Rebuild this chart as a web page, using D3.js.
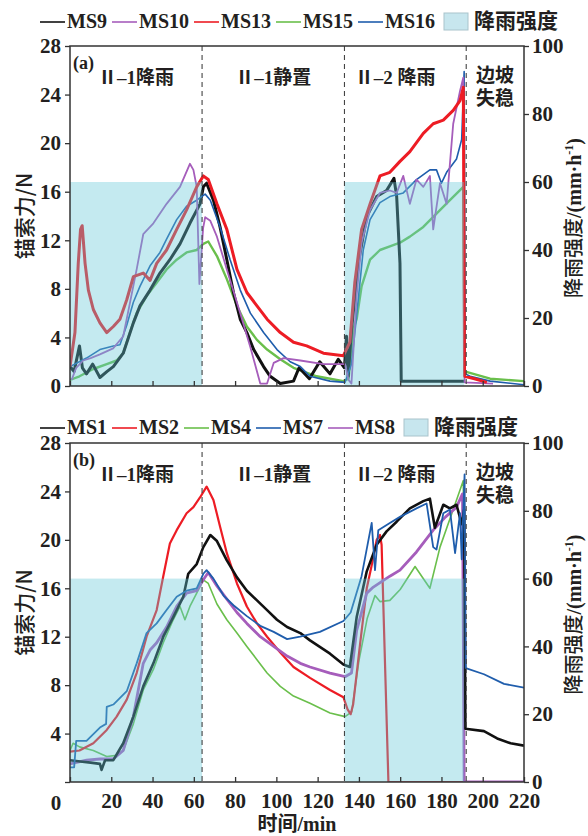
<!DOCTYPE html>
<html>
<head>
<meta charset="utf-8">
<script src="https://cdn.jsdelivr.net/npm/d3@7"></script>
<style>
body { margin: 0; background: #fff; }
svg text { font-family: "Liberation Serif", "Noto Sans CJK SC", serif; font-weight: bold; fill: #231f20; }
</style>
</head>
<body>
<div id="app"></div>
<script>
// data
var xTicks = [0, 20, 40, 60, 80, 100, 120, 140, 160, 180, 200, 220];
var forceTicks = [0, 4, 8, 12, 16, 20, 24, 28];
var rainTicks = [0, 20, 40, 60, 80, 100];
var rainPeriods = [[0, 64], [133, 191]];
var rainIntensity = [60, 60];
var phaseBounds = [64, 133, 192];
var phaseNames = ["Ⅱ–1降雨", "Ⅱ–1静置", "Ⅱ–2 降雨"];
var failName = ["边坡", "失稳"];

// panel (a)
var namesA = ["MS9", "MS10", "MS13", "MS15", "MS16"];
var ms9 = [[0,1.6],[2,1.2],[4.6,3.3],[6,1.5],[8,1.0],[11,1.8],[14.5,0.7],[18,1.2],[21,1.6],[25.8,2.7],[30.7,5.2],[33.9,6.6],[38.8,7.9],[43.6,9.3],[48.4,10.4],[53.3,11.7],[58.1,13.4],[63,15.0],[64.6,16.4],[66.2,16.7],[69.5,15.3],[72.7,13.1],[76,10.4],[79.2,7.7],[82.5,5.5],[85.7,4.4],[89,3.0],[93.8,1.6],[97,0.8],[101.9,0.2],[108.3,0.4],[111,1.5],[116,0.6],[121,2.0],[126,1.0],[130,2.2],[133,1.5],[134,4.1],[134.8,0.8],[136.4,4.6],[139.7,10.1],[143.7,13.9],[148.6,15.6],[153.4,16.1],[157,17.1],[158.3,15.6],[159.9,10.1],[160.5,0.4],[191,0.4]];
var ms10 = [[0.8,0.5],[3,1.5],[6.4,2.1],[10,2.3],[14.5,2.6],[20.9,3.1],[25.8,4.1],[29,6.8],[32.3,9.6],[35.5,12.5],[40.4,13.4],[46.8,15.0],[53.3,16.4],[58.1,18.3],[59.8,17.8],[61.4,16.4],[62.7,8.4],[64.5,13.0],[65.5,13.9],[68,13.6],[71.2,12.3],[76,9.6],[82.5,6.0],[87.4,3.2],[92.2,0.2],[95.5,0.2],[98.7,1.9],[103.5,2.3],[111.6,2.1],[122.8,1.8],[133.3,1.8],[135,0.5],[136.4,0.2],[138.9,7.4],[141.3,11.8],[145.4,14.5],[150.2,15.9],[155,16.1],[158.3,15.9],[161.5,17.3],[164.7,15.0],[167.9,17.0],[171.2,16.4],[174.4,17.3],[176,12.9],[179.3,16.7],[182.5,15.0],[185.7,21.6],[189,24.3],[190.6,25.4],[191.2,0.3],[205,0.2]];
var ms13 = [[0,1.6],[2.4,4.4],[4,10.1],[5.1,12.9],[5.9,13.2],[7.3,10.1],[8.9,7.9],[11.3,6.3],[14.5,5.2],[17.8,4.4],[21,4.9],[24.2,5.5],[27.5,7.1],[30.7,9.0],[35.5,9.3],[38.8,8.7],[42,10.1],[46.8,11.2],[51.7,12.9],[56.5,14.5],[61.4,16.4],[64.6,17.3],[67,17.0],[71.2,15.0],[76,12.9],[80.9,9.6],[85.7,7.7],[90.6,6.6],[95.5,5.5],[101.9,4.4],[108.3,3.6],[114.7,3.3],[122.8,2.7],[132.5,2.5],[135.6,3.6],[138,8.5],[141.3,12.9],[145.4,15.0],[150.2,17.3],[155,17.6],[159.9,18.5],[164.7,19.3],[171.2,20.8],[176,21.6],[180.9,21.9],[185.7,22.7],[189,23.5],[190.6,24.6],[191.2,0.8],[196,0.6],[202,0.3]];
var ms15 = [[0,0.5],[4.6,0.8],[11.3,1.4],[17.8,1.8],[22.6,2.1],[25.8,2.7],[29,4.4],[32.3,6.0],[37.1,7.4],[42,8.5],[46.8,9.6],[51.7,10.4],[56.5,11.0],[61.4,11.2],[64.6,11.7],[67,11.9],[71.2,10.7],[76,8.8],[80.9,6.6],[85.7,4.9],[90.6,3.8],[95.5,3.0],[101.9,2.2],[108.3,1.5],[119.5,0.8],[132.5,0.4],[135,0.6],[137.2,4.6],[138.9,5.5],[141.3,8.2],[145.4,10.4],[150.2,11.2],[155,11.5],[159.9,11.8],[164.7,12.3],[171.2,13.1],[177.6,14.2],[184.1,15.3],[190.6,16.4],[191.2,1.2],[203.6,0.6],[220,0.4]];
var ms16 = [[0,1.6],[8,2.3],[14.5,3.0],[21,3.3],[24.2,3.4],[27.5,5.0],[30.7,6.9],[33.9,8.2],[38.8,9.9],[43.6,11.0],[46.8,12.1],[51.7,13.7],[56.5,14.8],[61.4,15.3],[65.5,15.8],[68,15.3],[72.7,13.1],[77.6,10.4],[82.5,7.9],[87.4,6.0],[93.8,4.4],[100.3,3.0],[106.7,2.0],[111.6,1.6],[116.3,0.8],[126,0.4],[133.3,0.3],[136.4,1.8],[138.9,5.8],[142.1,11.2],[145.4,13.7],[150.2,15.1],[155,15.6],[161.5,15.9],[167.9,17.0],[174.4,17.8],[177.6,17.8],[180,16.7],[182.5,17.6],[187.3,18.7],[189.8,20.3],[191,25.9],[191.5,1.0],[193.9,0.8],[203.6,0.4],[220,0.1]];

// panel (b)
var namesB = ["MS1", "MS2", "MS4", "MS7", "MS8"];
var ms1 = [[0,1.8],[5,1.7],[10,1.6],[14.5,1.5],[15.3,1.0],[17,1.8],[21,1.8],[25.8,3.2],[30.7,5.4],[35.5,7.9],[40.4,9.8],[45.2,12.0],[50,13.6],[54.9,15.3],[57.3,17.2],[61.4,18.0],[64.6,19.4],[68,20.4],[71.2,19.9],[76,18.3],[80.9,16.9],[85.7,15.8],[90.6,15.0],[95.5,14.2],[100.3,13.4],[105.2,12.8],[111.6,12.3],[116.3,11.7],[126,10.6],[132.5,9.7],[135.6,9.5],[138.9,13.6],[143.8,17.4],[148.6,19.6],[153.4,20.7],[158.3,21.5],[164.7,22.6],[171.2,23.2],[174.4,23.4],[176.8,21.0],[180.9,22.9],[184.1,22.6],[187.3,22.9],[189.8,21.3],[191,22.5],[191.6,4.4],[200.6,4.2],[207,3.6],[213.5,3.2],[220,3.0]];
var ms2 = [[0,2.5],[4.6,2.6],[11.3,3.2],[17.8,4.3],[22.6,5.4],[27.5,6.8],[32.3,9.0],[37.1,12.0],[42,14.2],[45.2,17.0],[48.4,19.7],[51.7,20.8],[56.5,22.2],[59.8,22.7],[63,23.5],[66.2,24.4],[69.5,23.3],[72.7,21.1],[76,18.9],[80.9,16.4],[85.7,14.5],[90.6,13.1],[95.5,12.0],[101.9,10.7],[108.3,9.5],[116.3,8.6],[126,7.6],[132.5,7.0],[134.5,6.0],[136,5.6],[137.2,6.4],[140.5,11.3],[143.8,16.0],[146.2,17.9],[148.6,20.0],[150.2,20.4],[151,19.6],[154.3,0],[191,0]];
var ms4 = [[0,2.6],[1.5,3.2],[4.6,2.9],[11.3,2.6],[17.8,2.1],[22.6,2.2],[25.8,2.6],[30.7,4.8],[35.5,7.6],[40.4,9.3],[45.2,11.5],[50,13.4],[53.3,14.5],[55.7,13.4],[58.1,14.5],[61.4,15.6],[64.6,16.7],[67,16.4],[71.2,14.7],[76,13.4],[80.9,12.3],[85.7,11.2],[90.6,10.1],[95.5,9.0],[101.9,7.9],[108.3,7.1],[116.3,6.5],[126,5.7],[133.3,5.4],[136.5,5.8],[140,10.0],[144,13.5],[147.8,15.4],[150.2,14.9],[155,15.0],[160,15.9],[167.2,17.8],[174.4,16.0],[179.3,19.4],[185.7,22.5],[190.6,24.9],[191,0]];
var ms7 = [[0,1.2],[2,1.2],[3,3.4],[8,3.4],[14.5,4.5],[17.5,4.8],[17.8,6.2],[21,6.4],[27.5,7.5],[32.3,9.8],[37.1,12.3],[42,13.1],[46.8,14.2],[51.7,15.3],[56.5,15.8],[61.4,16.0],[64.6,17.2],[66.2,17.5],[69.5,16.8],[74.4,15.4],[79.2,14.6],[85.7,13.7],[92.2,12.9],[98.7,12.4],[105.2,11.8],[111.5,12.0],[121.1,12.4],[132.5,13.3],[136,14.0],[141.3,17.0],[146.2,21.4],[147.8,17.5],[149.4,20.8],[155,21.4],[159.9,21.9],[167.9,22.6],[172.8,23.0],[176,19.4],[177.6,19.2],[180.9,22.2],[184.1,22.5],[186.6,18.9],[189,22.2],[189.8,18.4],[191.2,25.4],[191.8,9.4],[200.6,8.9],[210.3,8.1],[220,7.8]];
var ms8 = [[0,1.5],[8,1.8],[14.5,1.9],[21,1.9],[25.8,2.6],[30.7,5.4],[35.5,9.8],[38.8,10.9],[42,11.5],[46.8,12.8],[51.7,14.5],[56.5,15.6],[61.4,15.8],[64.6,16.7],[67,17.3],[71.2,16.2],[76,15.1],[80.9,14.0],[85.7,13.1],[92.2,12.0],[98.7,11.2],[105.2,10.4],[111.6,9.8],[116.3,9.5],[126,9.0],[133.3,8.7],[136.4,9.0],[138.9,12.5],[143.8,15.6],[147,16.1],[155,17.0],[159.9,17.5],[167.9,19.0],[176,20.8],[182,21.9],[187.3,22.7],[190.2,23.8],[191,0],[220,0]];

// colours
var colorsA = ["#111111", "#a65dbb", "#ed1c24", "#6abf4b", "#1f5dac"];
var colorsB = ["#111111", "#ed1c24", "#6abf4b", "#1f5dac", "#a65dbb"];

var W = 588, H = 836;
var svg = d3.select("#app").append("svg").attr("width", W).attr("height", H);
var x = d3.scaleLinear().domain([0, 220]).range([70, 524]);

function drawLegend(y, names, colors, startX) {
	var lg = svg.append("g");
	var cx = startX;
	names.forEach(function(n, i) {
		lg.append("line")
			.attr("x1", cx).attr("x2", cx + 25)
			.attr("y1", y - 6).attr("y2", y - 6)
			.attr("stroke", colors[i]).attr("stroke-width", 1.6);
		cx += 27;
		var t = lg.append("text").attr("x", cx).attr("y", y)
			.style("font-size", "20px").text(n);
		cx += t.node().getComputedTextLength() + 5;
	});
	cx += 4;
	lg.append("rect").attr("x", cx).attr("y", y - 15).attr("width", 24).attr("height", 17)
		.attr("fill", "#c7e6ee").attr("stroke", "#a9c4cc").attr("stroke-width", 1);
	lg.append("text").attr("x", cx + 30).attr("y", y)
		.style("font-size", "21px").text("降雨强度");
}

function drawPanel(cfg) {
	var yL = d3.scaleLinear().domain([0, 28]).range([cfg.bottom, cfg.top]);
	var yR = d3.scaleLinear().domain([0, 100]).range([cfg.bottom, cfg.top]);
	var g = svg.append("g");

	g.append("clipPath").attr("id", cfg.id + "clip")
		.append("rect").attr("x", x(0)).attr("y", cfg.top)
		.attr("width", x(220) - x(0)).attr("height", cfg.bottom - cfg.top);

	var line = d3.line().x(function(d) { return x(d[0]); }).y(function(d) { return yL(d[1]); });
	var lines = g.append("g").attr("clip-path", "url(#" + cfg.id + "clip)");
	cfg.order.forEach(function(i) {
		lines.append("path")
			.datum(cfg.series[i])
			.attr("d", line)
			.attr("fill", "none")
			.attr("stroke", cfg.colors[i])
			.attr("stroke-width", cfg.widths[i])
			.attr("stroke-linejoin", "round");
	});

	// rain bars, drawn over the lines
	g.selectAll(".rain")
		.data(rainPeriods)
		.join("rect")
		.attr("x", function(d) { return x(d[0]); })
		.attr("y", function(d, i) { return yR(rainIntensity[i]); })
		.attr("width", function(d) { return x(d[1]) - x(d[0]); })
		.attr("height", function(d, i) { return yR(0) - yR(rainIntensity[i]); })
		.attr("fill", "rgb(100,200,215)")
		.attr("fill-opacity", 0.38);

	// phase boundaries
	g.selectAll(".phase")
		.data(phaseBounds)
		.join("line")
		.attr("x1", function(d) { return x(d); }).attr("x2", function(d) { return x(d); })
		.attr("y1", cfg.top).attr("y2", cfg.bottom)
		.attr("stroke", "#444").attr("stroke-width", 1.1)
		.attr("stroke-dasharray", "5,4");

	// frame
	g.append("rect").attr("x", x(0)).attr("y", cfg.top)
		.attr("width", x(220) - x(0)).attr("height", cfg.bottom - cfg.top)
		.attr("fill", "none").attr("stroke", "#333").attr("stroke-width", 1.5);

	// axes
	var left = g.append("g").attr("transform", "translate(" + x(0) + ",0)")
		.call(d3.axisLeft(yL).tickValues(forceTicks).tickSize(5).tickPadding(4)
			.tickFormat(function(d) { return (cfg.hideZero && d === 0) ? "" : d; }));
	var right = g.append("g").attr("transform", "translate(" + x(220) + ",0)")
		.call(d3.axisRight(yR).tickValues(rainTicks).tickSize(5).tickPadding(3));
	var bottom = g.append("g").attr("transform", "translate(0," + cfg.bottom + ")")
		.call(d3.axisBottom(x).tickValues(xTicks).tickSizeInner(-5).tickSizeOuter(0).tickPadding(11)
			.tickFormat(function(d) { return (cfg.xLabels && d !== 0) ? d : ""; }));
	[left, right, bottom].forEach(function(a) {
		a.select(".domain").remove();
		a.selectAll(".tick line").attr("stroke", "#333").attr("stroke-width", 1.3);
		a.selectAll(".tick text").style("font-size", "21px")
			.style("font-family", "'Liberation Serif', serif").attr("fill", "#231f20");
	});

	// panel letter and phase names
	g.append("text").attr("x", 73).attr("y", cfg.top + 23).style("font-size", "18px").text(cfg.letter);
	var labelY = cfg.top + 38;
	var centres = [32, 98.5, 157.5];
	phaseNames.forEach(function(n, i) {
		g.append("text").attr("x", x(centres[i])).attr("y", labelY)
			.attr("text-anchor", "middle").style("font-size", "19px").text(n);
	});
	failName.forEach(function(n, i) {
		g.append("text").attr("x", x(206)).attr("y", labelY - 2 + i * 23)
			.attr("text-anchor", "middle").style("font-size", "19px").text(n);
	});

	// axis titles
	var midY = (cfg.top + cfg.bottom) / 2;
	g.append("text")
		.attr("transform", "translate(32," + (midY) + ") rotate(-90)")
		.attr("text-anchor", "middle")
		.style("font-family", "'Noto Sans CJK SC', sans-serif")
		.style("font-weight", "500")
		.style("font-size", "21px").text("锚索力/N");
	var rt = g.append("text")
		.attr("transform", "translate(581," + (midY + 2) + ") rotate(-90)")
		.attr("text-anchor", "middle")
		.style("font-size", "20px");
	rt.append("tspan").style("font-family", "'Noto Sans CJK SC', sans-serif").style("font-weight", "500").text("降雨强度");
	rt.append("tspan").text("/(mm·h");
	rt.append("tspan").attr("dy", -8).style("font-size", "12px").text("-1");
	rt.append("tspan").attr("dy", 8).text(")");
}

drawLegend(28, namesA, colorsA, 40);
drawPanel({
	id: "a", top: 46, bottom: 386, letter: "(a)",
	series: [ms9, ms10, ms13, ms15, ms16],
	colors: colorsA,
	widths: [3, 1.8, 3, 2.4, 1.6],
	order: [3, 0, 4, 1, 2],
	hideZero: false, xLabels: false
});

drawLegend(434, namesB, colorsB, 40);
drawPanel({
	id: "b", top: 443, bottom: 782, letter: "(b)",
	series: [ms1, ms2, ms4, ms7, ms8],
	colors: colorsB,
	widths: [2.6, 2.2, 1.6, 1.8, 2.8],
	order: [2, 1, 4, 0, 3],
	hideZero: true, xLabels: true
});

// shared origin label and x title
svg.append("text").attr("x", 56).attr("y", 810).attr("text-anchor", "middle")
	.style("font-size", "21px").text("0");
svg.append("text").attr("x", x(110)).attr("y", 831).attr("text-anchor", "middle")
	.style("font-size", "20px").text("时间/min");
</script>
</body>
</html>
